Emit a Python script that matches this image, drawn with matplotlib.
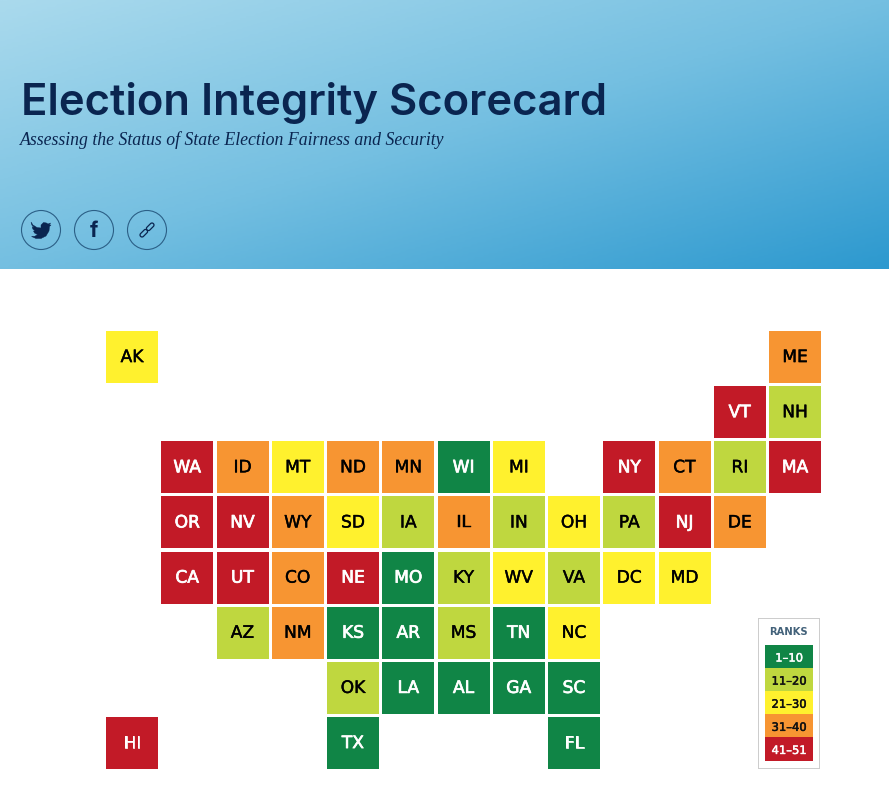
import matplotlib
matplotlib.use("Agg")
import matplotlib.pyplot as plt
import matplotlib.patheffects as pe
import numpy as np
from matplotlib.colors import LinearSegmentedColormap
from matplotlib.patches import Circle, FancyBboxPatch, Polygon
from matplotlib.transforms import Affine2D

# state, grid column, grid row, rank bin (0 = 1-10 ... 4 = 41-51)
states = ["AK", "ME", "VT", "NH",
          "WA", "ID", "MT", "ND", "MN", "WI", "MI", "NY", "CT", "RI", "MA",
          "OR", "NV", "WY", "SD", "IA", "IL", "IN", "OH", "PA", "NJ", "DE",
          "CA", "UT", "CO", "NE", "MO", "KY", "WV", "VA", "DC", "MD",
          "AZ", "NM", "KS", "AR", "MS", "TN", "NC",
          "OK", "LA", "AL", "GA", "SC",
          "HI", "TX", "FL"]
cols = [0, 12, 11, 12,
        1, 2, 3, 4, 5, 6, 7, 9, 10, 11, 12,
        1, 2, 3, 4, 5, 6, 7, 8, 9, 10, 11,
        1, 2, 3, 4, 5, 6, 7, 8, 9, 10,
        2, 3, 4, 5, 6, 7, 8,
        4, 5, 6, 7, 8,
        0, 4, 8]
rows = [0, 0, 1, 1,
        2, 2, 2, 2, 2, 2, 2, 2, 2, 2, 2,
        3, 3, 3, 3, 3, 3, 3, 3, 3, 3, 3,
        4, 4, 4, 4, 4, 4, 4, 4, 4, 4,
        5, 5, 5, 5, 5, 5, 5,
        6, 6, 6, 6, 6,
        7, 7, 7]
bins = [2, 3, 4, 1,
        4, 3, 2, 3, 3, 0, 2, 4, 3, 1, 4,
        4, 4, 3, 2, 1, 3, 1, 2, 1, 4, 3,
        4, 4, 3, 4, 0, 1, 2, 1, 2, 2,
        1, 3, 0, 0, 1, 0, 2,
        1, 0, 0, 0, 0,
        4, 0, 0]

rank_labels = ["1–10", "11–20", "21–30", "31–40", "41–51"]
rank_colors = ["#108546", "#BFD73F", "#FFF12E", "#F79532", "#C21A27"]
text_colors = ["white", "#111111", "#111111", "#111111", "white"]
state_text = ["white", "black", "black", "black", "white"]

W, H = 889, 798
SANS = "Inter"
WIDE = "DejaVu Sans"

fig = plt.figure(figsize=(W / 100, H / 100), dpi=100, facecolor="white")


def px_axes(x0, y0, x1, y1):
    # axes from pixel box, y measured from top of the image
    ax = fig.add_axes([x0 / W, 1 - y1 / H, (x1 - x0) / W, (y1 - y0) / H])
    ax.set_axis_off()
    return ax


def thicken(txt, color, width):
    # DejaVu has no medium weight, fake it with a thin stroke
    txt.set_path_effects([pe.withStroke(linewidth=width, foreground=color)])


# header banner
hdr = px_axes(0, 0, W, 269)
cmap = LinearSegmentedColormap.from_list("hdr", ["#aadaed", "#74bfe1", "#2d99cf"])
gx, gy = np.meshgrid(np.linspace(0, 1, 300), np.linspace(0, 1, 120))
hdr.imshow((gx + gy) / 2, cmap=cmap, extent=[0, W, 269, 0], aspect="auto", vmin=0, vmax=1)
hdr.set_xlim(0, W)
hdr.set_ylim(269, 0)

navy = "#0A2550"
hdr.text(21, 115.5, "Election Integrity Scorecard", fontsize=31.4, fontweight="semibold",
         family=SANS, color=navy, va="baseline", ha="left")
hdr.text(20, 145, "Assessing the Status of State Election Fairness and Security", fontsize=12.75,
         family="Liberation Serif", style="italic", color=navy, va="baseline", ha="left")

for cx in [41, 94, 147]:
    hdr.add_patch(Circle((cx, 230), 19.5, fc="none", ec="#2b5f86", lw=0.8))

# twitter bird
bird = [(31, 222), (33, 225), (37, 227.5), (41, 228), (41, 225), (43.5, 222.5), (46.5, 223),
        (48, 224), (50.5, 223), (49.5, 225), (51, 225), (49.5, 226.5), (49, 231), (46, 236),
        (41, 238.5), (36, 238.5), (31.5, 236.5), (35, 236.2), (37.5, 234.5), (34.5, 233),
        (33.5, 231), (35, 231), (32.8, 229), (32.2, 226.8), (34, 227.3), (31.8, 225)]
hdr.add_patch(Polygon(bird, closed=True, fc=navy, ec=navy, lw=0.3))
hdr.text(94, 237, "f", fontsize=15, fontweight="bold", family=SANS, color=navy, ha="center", va="baseline")

# link icon
for dx in [-3.2, 3.2]:
    tr = Affine2D().rotate_deg_around(147 + dx, 230 - dx, -45) + hdr.transData
    hdr.add_patch(FancyBboxPatch((147 + dx - 4.5, 230 - dx - 2), 9, 4, boxstyle="round,pad=0,rounding_size=2",
                                 fc="none", ec=navy, lw=0.9, transform=tr))

# tile grid
step_x, step_y, tile = 55.25, 55.14, 52
grid = px_axes(106, 331, 106 + 12 * step_x + tile, 331 + 7 * step_y + tile)
grid.set_xlim(0, 12 + tile / step_x)
grid.set_ylim(7 + tile / step_y, 0)
for s, c, r, b in zip(states, cols, rows, bins):
    grid.bar(c, tile / step_y, bottom=r, width=tile / step_x, align="edge", color=rank_colors[b], lw=0)
    t = grid.text(c + tile / step_x / 2, r + tile / step_y / 2 - 0.035, s, ha="center", va="center_baseline",
                  fontsize=12.3, family=WIDE, color=state_text[b])
    thicken(t, state_text[b], 0.5 if b in (0, 4) else 0.3)

# ranks legend
box = px_axes(757.5, 618, 819.5, 769)
box.set_xlim(757.5, 819.5)
box.set_ylim(769, 618)
box.add_patch(plt.Rectangle((757.5, 618), 62, 151, fc="white", ec="#cccccc", lw=1.4))
box.text(788.5, 632, "RANKS", ha="center", va="center", fontsize=7.2, fontweight="bold",
         family=WIDE, color="#43627A")
key_h = 23.1
for i, (lab, col, tc) in enumerate(zip(rank_labels, rank_colors, text_colors)):
    y = 645 + i * key_h
    box.bar(765, key_h, bottom=y, width=48, align="edge", color=col, lw=0)
    t = box.text(789, y + key_h / 2, lab, ha="center", va="center_baseline", fontsize=8.3,
                 family=WIDE, color=tc)
    thicken(t, tc, 0.35)

fig.savefig("out.png", dpi=100)
